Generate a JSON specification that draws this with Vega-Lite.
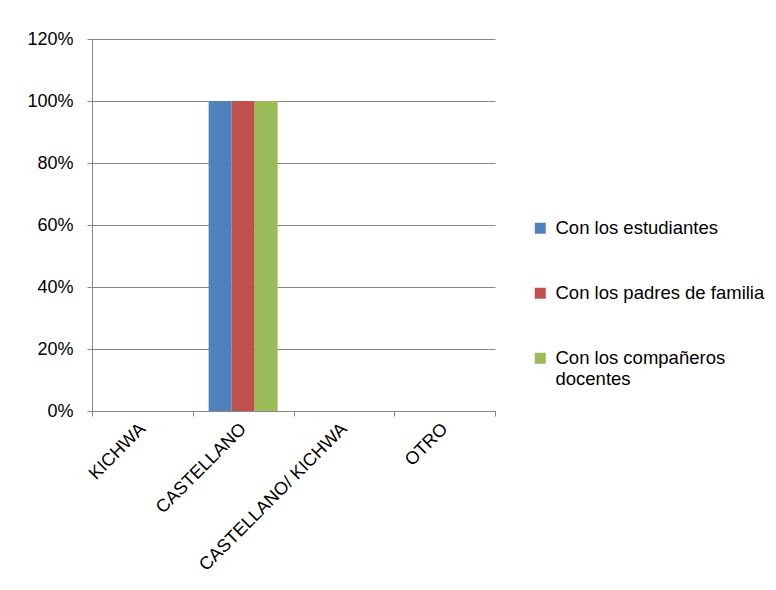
{
  "$schema": "https://vega.github.io/schema/vega-lite/v6.json",
  "autosize": "none",
  "width": 403,
  "height": 372,
  "padding": {"left": 92, "top": 39, "right": 281, "bottom": 179},
  "background": "white",
  "config": {
    "font": "Liberation Sans",
    "view": {"stroke": null}
  },
  "data": {
    "values": [
      {"lengua": "KICHWA", "serie": "Con los estudiantes", "valor": 0},
      {"lengua": "KICHWA", "serie": "Con los padres de familia", "valor": 0},
      {"lengua": "KICHWA", "serie": "Con los compañeros docentes", "valor": 0},
      {"lengua": "CASTELLANO", "serie": "Con los estudiantes", "valor": 1},
      {"lengua": "CASTELLANO", "serie": "Con los padres de familia", "valor": 1},
      {"lengua": "CASTELLANO", "serie": "Con los compañeros docentes", "valor": 1},
      {"lengua": "CASTELLANO/ KICHWA", "serie": "Con los estudiantes", "valor": 0},
      {"lengua": "CASTELLANO/ KICHWA", "serie": "Con los padres de familia", "valor": 0},
      {"lengua": "CASTELLANO/ KICHWA", "serie": "Con los compañeros docentes", "valor": 0},
      {"lengua": "OTRO", "serie": "Con los estudiantes", "valor": 0},
      {"lengua": "OTRO", "serie": "Con los padres de familia", "valor": 0},
      {"lengua": "OTRO", "serie": "Con los compañeros docentes", "valor": 0}
    ]
  },
  "mark": {"type": "bar"},
  "encoding": {
    "x": {
      "field": "lengua",
      "type": "nominal",
      "sort": ["KICHWA", "CASTELLANO", "CASTELLANO/ KICHWA", "OTRO"],
      "scale": {"paddingInner": 0, "paddingOuter": 0},
      "axis": {
        "title": null,
        "labelAngle": -45,
        "labelAlign": "right",
        "labelBaseline": "middle",
        "labelFontSize": 18,
        "labelColor": "#000000",
        "labelPadding": 10,
        "labelLimit": 400,
        "labelOverlap": false,
        "tickBand": "extent",
        "tickSize": 5,
        "tickColor": "#868686",
        "domainColor": "#868686",
        "grid": false
      }
    },
    "xOffset": {
      "field": "serie",
      "type": "nominal",
      "sort": ["Con los estudiantes", "Con los padres de familia", "Con los compañeros docentes"],
      "scale": {"paddingInner": 0, "paddingOuter": 0.69}
    },
    "y": {
      "field": "valor",
      "type": "quantitative",
      "scale": {"domain": [0, 1.2], "nice": false},
      "axis": {
        "title": null,
        "values": [0, 0.2, 0.4, 0.6, 0.8, 1, 1.2],
        "format": ".0%",
        "labelFontSize": 18,
        "labelColor": "#000000",
        "labelPadding": 14,
        "tickSize": 5,
        "tickColor": "#868686",
        "domainColor": "#868686",
        "gridColor": "#868686",
        "grid": true
      }
    },
    "color": {
      "field": "serie",
      "type": "nominal",
      "sort": ["Con los estudiantes", "Con los padres de familia", "Con los compañeros docentes"],
      "scale": {"range": ["#4F81BD", "#C0504D", "#9BBB59"]},
      "legend": {
        "title": null,
        "orient": "none",
        "legendX": 439,
        "legendY": 180,
        "padding": 0,
        "symbolType": "square",
        "symbolSize": 121,
        "symbolStrokeWidth": 0,
        "labelFontSize": 18.5,
        "labelColor": "#000000",
        "labelOffset": 6,
        "labelLimit": 300,
        "rowPadding": 46,
        "labelExpr": "datum.label == 'Con los compañeros docentes' ? ['Con los compañeros', 'docentes'] : datum.label"
      }
    }
  }
}
